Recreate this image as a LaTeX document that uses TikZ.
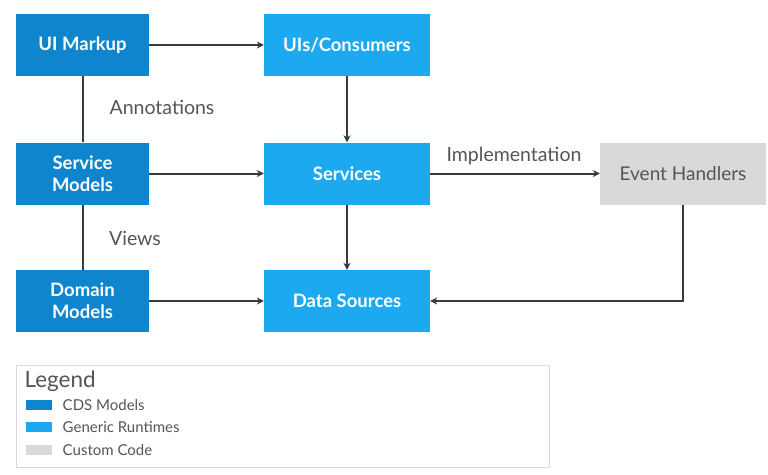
\documentclass[tikz,border=0pt]{standalone}
\usepackage{fontspec}
\setmainfont{Lato}
\usetikzlibrary{positioning,arrows.meta}
\definecolor{cdsblue}{HTML}{0E85CC}
\definecolor{runblue}{HTML}{1DA9F0}
\definecolor{custgray}{HTML}{D9D9D9}
\definecolor{txtgray}{HTML}{555555}
\definecolor{linegray}{HTML}{3A3A3A}
\tikzset{
  box/.style={minimum width=133pt, minimum height=62pt, inner sep=0pt, align=center, font=\fontsize{18.5}{22}\selectfont\bfseries, text=white},
  cds/.style={box, fill=cdsblue},
  runtime/.style={box, fill=runblue, minimum width=166pt},
  custom/.style={box, fill=custgray, minimum width=166pt, text=txtgray, font=\fontsize{19}{22}\selectfont},
  lbl/.style={text=txtgray, font=\fontsize{19.5}{22}\selectfont},
  flow/.style={draw=linegray, line width=2pt, -{Stealth[length=7pt,width=7pt]}},
  swatch/.style={minimum width=26pt, minimum height=10pt, inner sep=0pt},
  legtext/.style={text=txtgray, font=\fontsize{15}{17}\selectfont, anchor=west}
}
\begin{document}
\begin{tikzpicture}[x=1pt, y=-1pt]
\useasboundingbox (0,0) rectangle (768,474);
\node [cds] (markup) at (82.5,45) {UI Markup};
\node [cds] (svcmodels) at (82.5,173.5) {Service\\Models};
\node [cds] (dommodels) at (82.5,301) {Domain\\Models};
\node [runtime] (consumers) at (347,45) {UIs/Consumers};
\node [runtime] (services) at (347,173.5) {Services};
\node [runtime] (sources) at (347,301) {Data Sources};
\node [custom] (handlers) at (683,173.5) {Event Handlers};
\node [lbl] (annot) at (162,107) {Annotations};
\node [lbl] (views) at (135,238) {Views};
\node [lbl] (impl) at (514,156) {Implementation};
\draw [draw=linegray, line width=2pt] (markup) -- (svcmodels) -- (dommodels);
\draw [flow] (markup) -- (consumers);
\draw [flow] (svcmodels) -- (services);
\draw [flow] (dommodels) -- (sources);
\draw [flow] (consumers) -- (services);
\draw [flow] (services) -- (sources);
\draw [flow] (services) -- (handlers);
\draw [flow] (handlers.south) |- (sources.east);
% legend
\node [draw=custgray, line width=1pt, minimum width=533pt, minimum height=102pt, anchor=north west] (legend) at (16,365) {};
\node [text=txtgray, font=\fontsize{22.5}{24}\selectfont, anchor=west] (legtitle) at (21,381) {Legend};
\node [swatch, fill=cdsblue] (sw1) at (39,405) {};
\node [swatch, fill=runblue] (sw2) at (39,427) {};
\node [swatch, fill=custgray] (sw3) at (39,450) {};
\node [legtext, right=7pt of sw1] (lg1) {CDS Models};
\node [legtext, right=7pt of sw2] (lg2) {Generic Runtimes};
\node [legtext, right=7pt of sw3] (lg3) {Custom Code};
\end{tikzpicture}
\end{document}
